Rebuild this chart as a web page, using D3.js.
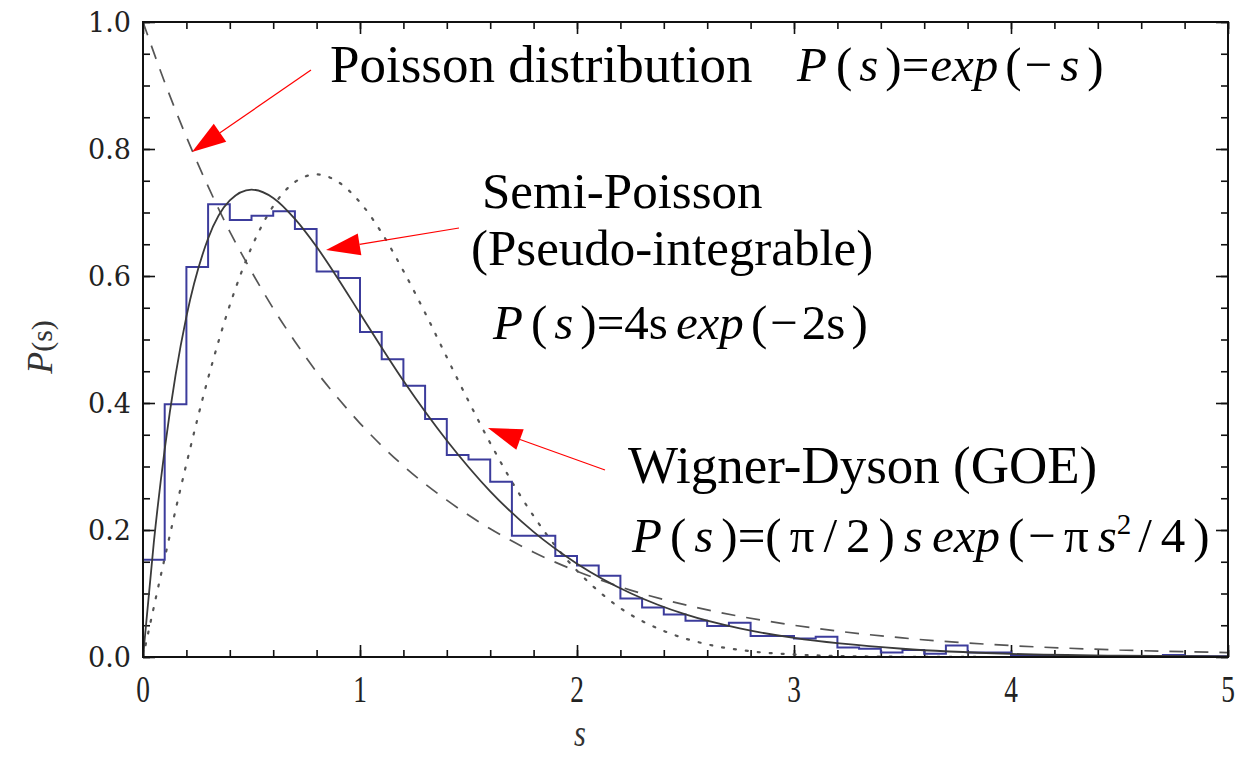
<!DOCTYPE html>
<html>
<head>
<meta charset="utf-8">
<script src="https://cdn.jsdelivr.net/npm/d3@7"></script>
<style>
  body { margin: 0; background: #fff; }
  svg { display: block; }
</style>
</head>
<body>
<div id="chart"></div>
<script>
// histogram of level spacings, bins of width 0.1 from s = 0
const binWidth = 0.1;
const histValues = [
  0.153, 0.398, 0.614, 0.713, 0.688, 0.695, 0.702, 0.674, 0.607, 0.597,
  0.512, 0.469, 0.427, 0.375, 0.318, 0.311, 0.276, 0.191, 0.191, 0.159,
  0.144, 0.128, 0.092, 0.078, 0.067, 0.057, 0.049, 0.054, 0.033, 0.033,
  0.029, 0.032, 0.015, 0.013, 0.007, 0.011, 0.005, 0.018, 0.007, 0.007,
  0.003, 0.003, 0.001, 0.001, 0.001, 0.001, 0.001, 0.003, 0.001, 0.001
];

// curves
const poissonS = [0, 0.1, 0.2, 0.3, 0.4, 0.5, 0.6, 0.7, 0.8, 0.9, 1.0, 1.2, 1.4, 1.6, 1.8, 2.0, 2.25, 2.5, 2.75, 3.0, 3.5, 4.0, 4.5, 5.0];
const poissonP = [1.000, 0.905, 0.819, 0.741, 0.670, 0.607, 0.549, 0.497, 0.449, 0.407, 0.368, 0.301, 0.247, 0.202, 0.165, 0.135, 0.105, 0.082, 0.064, 0.050, 0.030, 0.018, 0.011, 0.007];

const semiS = [0, 0.05, 0.1, 0.15, 0.2, 0.3, 0.4, 0.5, 0.6, 0.7, 0.8, 0.9, 1.0, 1.2, 1.4, 1.6, 1.8, 2.0, 2.25, 2.5, 2.75, 3.0, 3.5, 4.0, 4.5, 5.0];
const semiP = [0, 0.181, 0.327, 0.444, 0.536, 0.659, 0.719, 0.736, 0.723, 0.690, 0.646, 0.595, 0.541, 0.435, 0.341, 0.261, 0.197, 0.147, 0.100, 0.067, 0.045, 0.030, 0.013, 0.005, 0.002, 0.001];

const wignerS = [0, 0.1, 0.2, 0.3, 0.4, 0.5, 0.6, 0.7, 0.8, 0.9, 1.0, 1.1, 1.2, 1.3, 1.4, 1.5, 1.6, 1.7, 1.8, 1.9, 2.0, 2.2, 2.4, 2.6, 2.8, 3.0, 3.2, 3.5, 4.0, 5.0];
const wignerP = [0, 0.156, 0.304, 0.439, 0.554, 0.645, 0.710, 0.748, 0.760, 0.748, 0.716, 0.668, 0.608, 0.542, 0.472, 0.403, 0.337, 0.276, 0.222, 0.175, 0.136, 0.077, 0.041, 0.020, 0.009, 0.004, 0.0016, 0.0004, 0, 0];

const xMajor = [0, 1, 2, 3, 4, 5];
const yMajor = [0, 0.2, 0.4, 0.6, 0.8, 1.0];

const W = 1249, H = 757;
const plot = {left: 143, right: 1228, top: 22, bottom: 657};

const svg = d3.select("#chart").append("svg")
    .attr("width", W).attr("height", H);

const x = d3.scaleLinear().domain([0, 5]).range([plot.left, plot.right]);
const y = d3.scaleLinear().domain([0, 1]).range([plot.bottom, plot.top]);

svg.append("clipPath").attr("id", "clip")
  .append("rect")
    .attr("x", plot.left).attr("y", plot.top)
    .attr("width", plot.right - plot.left).attr("height", plot.bottom - plot.top);

const xMinor = d3.range(0, 5.001, 0.2);
const yMinor = d3.range(0, 1.001, 0.05);

// ticks on all four sides, pointing inward
function addAxis(axis, transform, values, size) {
  const g = svg.append("g").attr("transform", transform)
      .call(axis.tickValues(values).tickSize(size).tickFormat(""));
  g.select(".domain").remove();
  g.selectAll("line").attr("stroke", "#111").attr("stroke-width", 1.6);
  return g;
}
addAxis(d3.axisBottom(x), `translate(0,${plot.bottom})`, xMinor, -7);
addAxis(d3.axisBottom(x), `translate(0,${plot.bottom})`, xMajor, -12);
addAxis(d3.axisTop(x), `translate(0,${plot.top})`, xMinor, -7);
addAxis(d3.axisTop(x), `translate(0,${plot.top})`, xMajor, -12);
addAxis(d3.axisLeft(y), `translate(${plot.left},0)`, yMinor, -7);
addAxis(d3.axisLeft(y), `translate(${plot.left},0)`, yMajor, -12);
addAxis(d3.axisRight(y), `translate(${plot.right},0)`, yMinor, -7);
addAxis(d3.axisRight(y), `translate(${plot.right},0)`, yMajor, -12);

const serif = "'Liberation Serif', 'Times New Roman', serif";

// tick labels
svg.append("g").selectAll("text").data(yMajor).join("text")
    .attr("x", plot.left - 12)
    .attr("y", d => y(d) + 10)
    .attr("text-anchor", "end")
    .style("font-family", "'DejaVu Serif', serif")
    .style("font-size", "27px")
    .attr("fill", "#222")
    .text(d => d.toFixed(1));

svg.append("g").selectAll("text").data(xMajor).join("text")
    .attr("transform", d => `translate(${x(d)},${plot.bottom + 45}) scale(0.72,1)`)
    .attr("text-anchor", "middle")
    .style("font-family", serif)
    .style("font-size", "38px")
    .attr("fill", "#222")
    .text(d => d);

// axis titles
svg.append("text")
    .attr("transform", `translate(580,746) scale(0.8,1)`)
    .attr("text-anchor", "middle")
    .style("font-family", serif)
    .style("font-style", "italic")
    .style("font-size", "38px")
    .attr("fill", "#333")
    .text("s");

const yt = svg.append("text")
    .attr("transform", `translate(52,347) rotate(-90)`)
    .attr("text-anchor", "middle")
    .style("font-family", serif)
    .style("font-size", "36px")
    .attr("fill", "#333");
yt.append("tspan").style("font-style", "italic").text("P");
yt.append("tspan").style("font-size", "30px").text("(s)");

// curves
const plotArea = svg.append("g").attr("clip-path", "url(#clip)");

const curveLine = d3.line()
    .x(d => x(d[0]))
    .y(d => y(d[1]))
    .curve(d3.curveMonotoneX);

plotArea.append("path")
    .datum(d3.zip(wignerS, wignerP))
    .attr("d", curveLine)
    .attr("fill", "none")
    .attr("stroke", "#555")
    .attr("stroke-width", 2.2)
    .attr("stroke-dasharray", "2,10")
    .attr("stroke-linecap", "round");

plotArea.append("path")
    .datum(d3.zip(poissonS, poissonP))
    .attr("d", curveLine)
    .attr("fill", "none")
    .attr("stroke", "#555")
    .attr("stroke-width", 1.7)
    .attr("stroke-dasharray", "14,11");

// histogram as a step outline
const steps = histValues.map((v, i) => [i * binWidth, v]);
steps.push([histValues.length * binWidth, histValues[histValues.length - 1]]);
plotArea.append("path")
    .datum(steps)
    .attr("d", d3.line().x(d => x(d[0])).y(d => y(d[1])).curve(d3.curveStepAfter))
    .attr("fill", "none")
    .attr("stroke", "#3c3c9c")
    .attr("stroke-width", 2);

plotArea.append("path")
    .datum(d3.zip(semiS, semiP))
    .attr("d", curveLine)
    .attr("fill", "none")
    .attr("stroke", "#3a3a3a")
    .attr("stroke-width", 1.8);

// frame
svg.append("rect")
    .attr("x", plot.left).attr("y", plot.top)
    .attr("width", plot.right - plot.left).attr("height", plot.bottom - plot.top)
    .attr("fill", "none")
    .attr("stroke", "#111")
    .attr("stroke-width", 2);

// annotations: each is a block of lines [x, baseline, text]
function label(size, lines) {
  const t = svg.append("text")
      .style("font-family", serif)
      .style("font-size", size + "px")
      .attr("fill", "#000");
  lines.forEach(l => {
    t.append("tspan").attr("x", l[0]).attr("y", l[1]).text(l[2]);
  });
}
label(53, [[330, 82, "Poisson distribution"]]);
label(51, [[482, 208, "Semi-Poisson"], [471, 265, "(Pseudo-integrable)"]]);
label(53, [[628, 483, "Wigner-Dyson (GOE)"]]);

// formula parts: [text, italic, gap before, superscript on/off]
function formula(px, py, parts) {
  const t = svg.append("text")
      .attr("x", px).attr("y", py)
      .style("font-family", serif)
      .style("font-size", "49px")
      .attr("fill", "#000");
  parts.forEach(p => {
    const s = t.append("tspan").text(p[0]);
    if (p[1]) s.style("font-style", "italic");
    let dy = 0;
    if (p[3] === 1) { dy = -18; s.style("font-size", "29px"); }
    if (p[3] === -1) dy = 18;
    s.attr("dx", p[2] || 0).attr("dy", dy);
  });
}
formula(797, 81, [
  ["P", 1], ["(", 0, 9], ["s", 1, 7], [")", 0, 7], ["=", 0, 0], ["exp", 1, 1],
  ["(", 0, 7], ["−", 0, 3], ["s", 1, 8], [")", 0, 8]
]);
formula(493, 339, [
  ["P", 1], ["(", 0, 8], ["s", 1, 7], [")", 0, 7], ["=4s", 0, 0], ["exp", 1, 8],
  ["(", 0, 7], ["−", 0, 3], ["2s", 0, 4], [")", 0, 6]
]);
formula(632, 552, [
  ["P", 1], ["(", 0, 8], ["s", 1, 8], [")", 0, 8], ["=(", 0, 0], ["π", 0, 8],
  ["/", 0, 9], ["2", 0, 9], [")", 0, 8], ["s", 1, 9], ["exp", 1, 9],
  ["(", 0, 8], ["−", 0, 4], ["π", 0, 8], ["s", 1, 9], ["2", 0, 0, 1],
  ["/", 0, 7, -1], ["4", 0, 9], [")", 0, 8]
]);

// red arrows: [tailX, tailY, tipX, tipY]
const arrows = [
  [311, 70, 192, 152],
  [459, 228, 326, 250],
  [605, 470, 488, 428]
];
const headLen = 34, headHalf = 11;
arrows.forEach(a => {
  const [x0, y0, x1, y1] = a;
  const len = Math.hypot(x1 - x0, y1 - y0);
  const ux = (x1 - x0) / len, uy = (y1 - y0) / len;
  const bx = x1 - ux * headLen, by = y1 - uy * headLen;
  svg.append("line")
      .attr("x1", x0).attr("y1", y0).attr("x2", bx).attr("y2", by)
      .attr("stroke", "#f00").attr("stroke-width", 1.2);
  svg.append("path")
      .attr("d", `M${x1},${y1}L${bx - uy * headHalf},${by + ux * headHalf}L${bx + uy * headHalf},${by - ux * headHalf}Z`)
      .attr("fill", "#f00");
});
</script>
</body>
</html>
